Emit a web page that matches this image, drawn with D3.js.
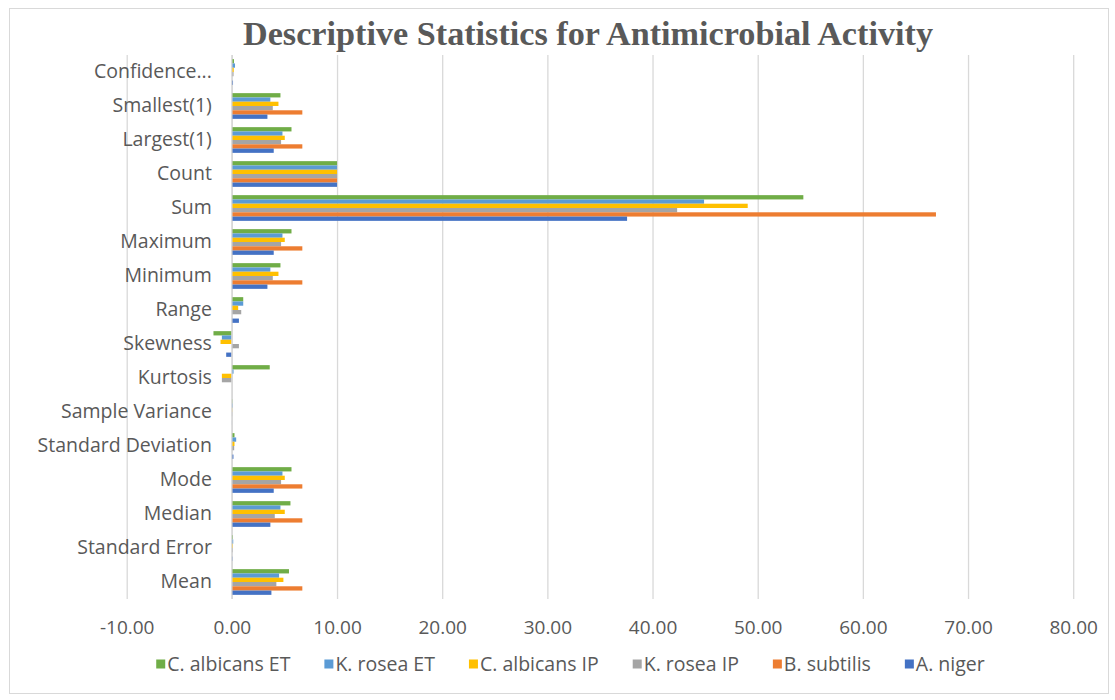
<!DOCTYPE html>
<html>
<head>
<meta charset="utf-8">
<script src="https://cdn.jsdelivr.net/npm/d3@7"></script>
<style>
  html, body { margin: 0; padding: 0; background: #ffffff; }
  svg { display: block; }
</style>
</head>
<body>
<svg id="chart" width="1115" height="700"></svg>
<script>
// ---- Data ----
const categories = ["Mean", "Standard Error", "Median", "Mode", "Standard Deviation",
  "Sample Variance", "Kurtosis", "Skewness", "Range", "Minimum", "Maximum",
  "Sum", "Count", "Largest(1)", "Smallest(1)", "Confidence..."];

const seriesNames = ["C. albicans ET", "K. rosea ET", "C. albicans IP", "K. rosea IP", "B. subtilis", "A. niger"];
const seriesColors = ["#70AD47", "#5B9BD5", "#FFC000", "#A5A5A5", "#ED7D31", "#4472C4"];

const cAlbicansET = [5.43, 0.09, 5.57, 5.67, 0.25, 0.04, 3.60, -1.75, 1.08, 4.62, 5.67, 54.34, 10, 5.67, 4.62, 0.20];
const kRoseaET    = [4.49, 0.13, 4.62, 4.81, 0.41, 0.06, 0.16, -0.95, 1.08, 3.66, 4.81, 44.90, 10, 4.81, 3.66, 0.30];
const cAlbicansIP = [4.90, 0.08, 5.03, 5.03, 0.25, 0.03, -0.95, -1.08, 0.60, 4.43, 5.03, 49.05, 10, 5.03, 4.43, 0.18];
const kRoseaIP    = [4.23, 0.08, 4.08, 4.68, 0.22, 0.03, -0.95, 0.67, 0.89, 3.89, 4.68, 42.34, 10, 4.68, 3.89, 0.16];
const bSubtilis   = [6.70, 0.00, 6.70, 6.70, 0.00, 0.00, 0.00, 0.00, 0.00, 6.70, 6.70, 66.95, 10, 6.70, 6.70, 0.00];
const aNiger      = [3.76, 0.05, 3.66, 3.98, 0.15, 0.01, 0.00, -0.54, 0.67, 3.38, 3.98, 37.58, 10, 3.98, 3.38, 0.11];

const seriesValues = [cAlbicansET, kRoseaET, cAlbicansIP, kRoseaIP, bSubtilis, aNiger];
const xTicks = [-10, 0, 10, 20, 30, 40, 50, 60, 70, 80];
const titleText = "Descriptive Statistics for Antimicrobial Activity";

// ---- Layout ----
const svg = d3.select("#chart");
const plot = { left: 126.7, right: 1073.2, top: 55, bottom: 599 };
const textColor = "#595959";
const gridColor = "#d9d9d9";

// outer chart border
svg.append("rect")
  .attr("x", 9.5).attr("y", 8.5)
  .attr("width", 1099).attr("height", 685)
  .attr("fill", "#ffffff").attr("stroke", "#d9d9d9").attr("stroke-width", 1);

// title
svg.append("text")
  .attr("x", 588).attr("y", 45)
  .attr("text-anchor", "middle")
  .attr("font-family", "'Liberation Serif', 'Times New Roman', serif")
  .attr("font-weight", "bold")
  .attr("font-size", 34)
  .attr("fill", textColor)
  .attr("textLength", 690)
  .attr("lengthAdjust", "spacingAndGlyphs")
  .text(titleText);

// scales
const x = d3.scaleLinear().domain([-10, 80]).range([plot.left, plot.right]);
const y = d3.scaleBand()
  .domain(categories.slice().reverse())
  .range([plot.top, plot.bottom])
  .paddingInner(0.244).paddingOuter(0.122);
const ySub = d3.scaleBand().domain(seriesNames).range([0, y.bandwidth()]).padding(0);

// number format with a plain hyphen minus
const loc = d3.formatLocale({ decimal: ".", thousands: ",", grouping: [3], currency: ["", ""], minus: "-" });
const fmt = loc.format(".2f");

// gridlines (vertical) + tick labels
const xAxis = d3.axisBottom(x).tickValues(xTicks).tickSize(-(plot.bottom - plot.top)).tickFormat(fmt).tickPadding(22);
const gx = svg.append("g").attr("transform", `translate(0,${plot.bottom})`).call(xAxis);
gx.select(".domain").remove();
gx.selectAll(".tick line").attr("stroke", gridColor).attr("stroke-width", 1.3);
gx.selectAll(".tick text")
  .attr("fill", textColor)
  .attr("font-family", "'Open Sans', 'Noto Sans', sans-serif")
  .attr("font-size", 19)
  .attr("dy", "0.71em");

// bars
const rows = [];
categories.forEach((c, ci) => {
  seriesNames.forEach((s, si) => {
    rows.push({ cat: c, series: s, value: seriesValues[si][ci], color: seriesColors[si] });
  });
});

svg.append("g").selectAll("rect")
  .data(rows)
  .join("rect")
  .attr("x", d => Math.min(x(0), x(d.value)))
  .attr("y", d => y(d.cat) + ySub(d.series))
  .attr("width", d => Math.abs(x(d.value) - x(0)))
  .attr("height", ySub.bandwidth())
  .attr("fill", d => d.color);

// category axis line at 0
svg.append("line")
  .attr("x1", x(0)).attr("x2", x(0))
  .attr("y1", plot.top).attr("y2", plot.bottom)
  .attr("stroke", gridColor).attr("stroke-width", 1.3);

// category labels
const yAxis = d3.axisLeft(y).tickSize(0).tickPadding(0);
const gy = svg.append("g").attr("transform", `translate(${x(0) - 20},0)`).call(yAxis);
gy.select(".domain").remove();
gy.selectAll(".tick text")
  .attr("fill", textColor)
  .attr("font-family", "'Open Sans', 'Noto Sans', sans-serif")
  .attr("font-size", 19.5);

// legend
const legendY = 664;
const legend = svg.append("g");
const items = legend.selectAll("g").data(seriesNames).join("g");
items.append("rect")
  .attr("width", 9).attr("height", 9)
  .attr("y", -4.5)
  .attr("fill", (d, i) => seriesColors[i]);
items.append("text")
  .attr("x", 11)
  .attr("dy", "0.35em")
  .attr("fill", textColor)
  .attr("font-family", "'Open Sans', 'Noto Sans', sans-serif")
  .attr("font-size", 19.5)
  .text(d => d);
const gap = 34;
const widths = [];
items.each(function () {
  const t = d3.select(this).select("text").node().getComputedTextLength();
  widths.push(11 + t);
});
const total = d3.sum(widths) + gap * (widths.length - 1);
let startX = 570.5 - total / 2;
items.attr("transform", (d, i) => {
  const tx = startX;
  startX += widths[i] + gap;
  return `translate(${tx},${legendY})`;
});
</script>
</body>
</html>
